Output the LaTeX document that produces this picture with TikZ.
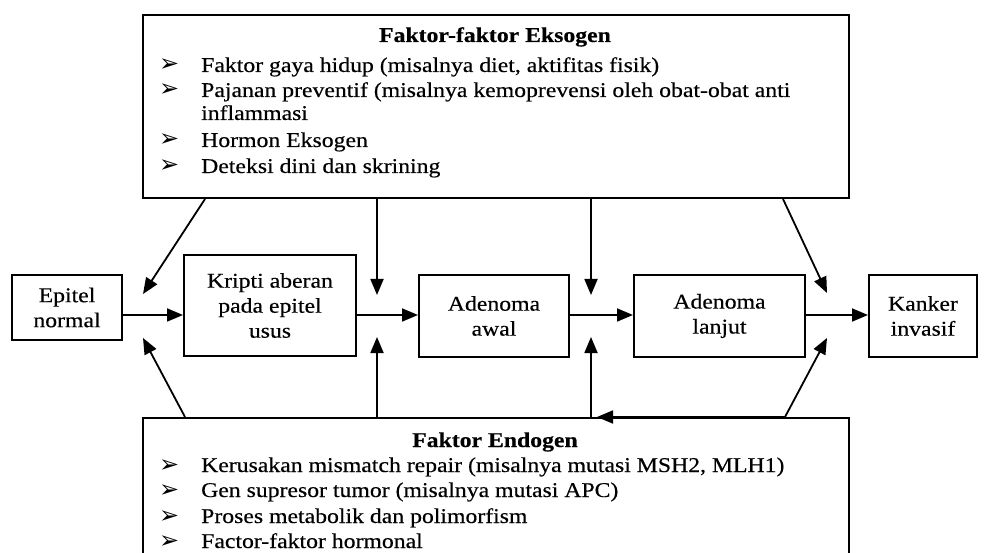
\documentclass[tikz,border=0pt]{standalone}
\usepackage{fontspec}
\setmainfont{Liberation Serif}[FakeStretch=1.13, FakeBold=0.4]
\newfontfamily\symfont{DejaVu Sans}
\usetikzlibrary{arrows.meta}
\newcommand\bulmark{\makebox[42pt][l]{\symfont\fontsize{24}{24}\selectfont ➢}}
\begin{document}
\begin{tikzpicture}[x=1pt,y=-1pt,
  every node/.style={font=\fontsize{21}{25}\selectfont, inner sep=0pt},
  frame/.style={draw, line width=2pt},
  stage/.style={frame, align=center},
  arr/.style={line width=1.8pt, -{Triangle[length=16pt,width=13pt]}},
  item/.style={anchor=base west}]
\useasboundingbox (0,0) rectangle (988,553);
\clip (0,0) rectangle (988,553);

% factor boxes
\node[frame, anchor=north west, minimum width=706pt, minimum height=183pt] (exo) at (142,14) {};
\node[frame, anchor=north west, minimum width=706pt, minimum height=183pt] (endo) at (142,417) {};

% exogenous factors
\node[item, font=\fontsize{21}{25}\selectfont\bfseries, anchor=base] (ex0) at (495,42) {Faktor-faktor Eksogen};
\node[item] (ex1) at (159,72)  {\bulmark Faktor gaya hidup (misalnya diet, aktifitas fisik)};
\node[item] (ex2) at (159,97)  {\bulmark Pajanan preventif (misalnya kemoprevensi oleh obat-obat anti};
\node[item] (ex3) at (201,120) {inflammasi};
\node[item] (ex4) at (159,147) {\bulmark Hormon Eksogen};
\node[item] (ex5) at (159,173) {\bulmark Deteksi dini dan skrining};

% endogenous factors
\node[item, font=\fontsize{21}{25}\selectfont\bfseries, anchor=base] (en0) at (495,447) {Faktor Endogen};
\node[item] (en1) at (159,472) {\bulmark Kerusakan mismatch repair (misalnya mutasi MSH2, MLH1)};
\node[item] (en2) at (159,497) {\bulmark Gen supresor tumor (misalnya mutasi APC)};
\node[item] (en3) at (159,523) {\bulmark Proses metabolik dan polimorfism};
\node[item] (en4) at (159,548) {\bulmark Factor-faktor hormonal};

% stages
\node[stage, minimum width=110pt, minimum height=65pt]  (epi)    at (67,307.5)  {Epitel\\normal};
\node[stage, minimum width=172pt, minimum height=101pt] (kri)    at (270,305.5) {Kripti aberan\\pada epitel\\usus};
\node[stage, minimum width=150pt, minimum height=82pt]  (awal)   at (494,316)   {Adenoma\\awal};
\node[stage, minimum width=171pt, minimum height=82pt]  (lanjut) at (719.5,316) {Adenoma\\lanjut};
\node[stage, minimum width=108pt, minimum height=82pt]  (kanker) at (923,316)   {Kanker\\invasif};

% main progression
\coordinate (lane) at (0,315);
\draw[arr] (epi.east |- lane) -- (kri.west |- lane);
\draw[arr] (kri.east |- lane) -- (awal.west |- lane);
\draw[arr] (awal.east |- lane) -- (lanjut.west |- lane);
\draw[arr] (lanjut.east |- lane) -- (kanker.west |- lane);

% arrow tips between the stages
\coordinate (d1) at (143,294);
\coordinate (d2) at (377,295);
\coordinate (d3) at (591,295);
\coordinate (d4) at (827,293);
\coordinate (u1) at (143,338);
\coordinate (u2) at (377,337);
\coordinate (u3) at (591,337);
\coordinate (u4) at (827,338);

% exogenous influences
\draw[arr] (exo.south -| 205,0) -- (d1);
\draw[arr] (exo.south -| 377,0) -- (d2);
\draw[arr] (exo.south -| 591,0) -- (d3);
\draw[arr] (exo.south -| 783,0) -- (d4);

% endogenous influences
\draw[arr] (endo.north -| 185,0) -- (u1);
\draw[arr] (endo.north -| 377,0) -- (u2);
\draw[arr] (endo.north -| 591,0) -- (u3);
\draw[arr] (endo.north -| 785,0) -- (u4);
\draw[arr] (endo.north -| 785,0) -- (endo.north -| 597,0);
\end{tikzpicture}
\end{document}
